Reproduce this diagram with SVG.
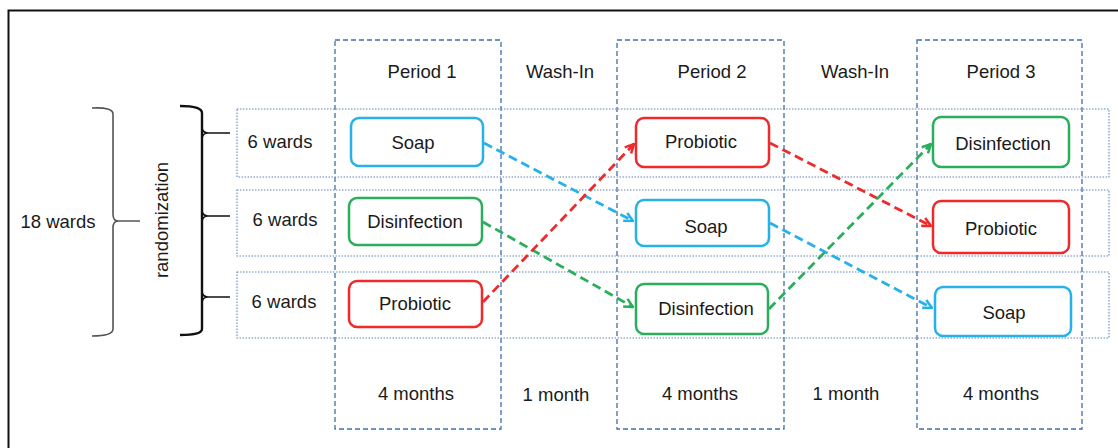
<svg xmlns="http://www.w3.org/2000/svg" width="1118" height="448" viewBox="0 0 1118 448">
<defs>
<style>
.t{font-family:"Liberation Sans",Arial,sans-serif;font-size:18.5px;fill:#1a1a1a;text-anchor:middle}
.col{fill:none;stroke:#3F6FA8;stroke-width:1.3;stroke-dasharray:5,3}
.row{fill:none;stroke:#5F86BE;stroke-width:1.1;stroke-dasharray:1.5,1.5}
.box{fill:#fff;stroke-width:2.5}
.b{stroke:#27B1E9}.g{stroke:#2BAE5C}.r{stroke:#EE2A2A}
.arr{fill:none;stroke-width:2.8;stroke-dasharray:9,5}
.brace{fill:none}
</style>
<marker id="mb" viewBox="0 0 10 10" refX="9" refY="5" markerWidth="11" markerHeight="11" markerUnits="userSpaceOnUse" orient="auto"><path d="M1,1 L9,5 L1,9" fill="none" stroke="#27B1E9" stroke-width="2.3"/></marker>
<marker id="mg" viewBox="0 0 10 10" refX="9" refY="5" markerWidth="11" markerHeight="11" markerUnits="userSpaceOnUse" orient="auto"><path d="M1,1 L9,5 L1,9" fill="none" stroke="#2BAE5C" stroke-width="2.3"/></marker>
<marker id="mr" viewBox="0 0 10 10" refX="9" refY="5" markerWidth="11" markerHeight="11" markerUnits="userSpaceOnUse" orient="auto"><path d="M1,1 L9,5 L1,9" fill="none" stroke="#EE2A2A" stroke-width="2.3"/></marker>
</defs>
<rect x="0" y="0" width="1118" height="448" fill="#fff"/>
<rect x="8.5" y="10.5" width="1200" height="500" fill="none" stroke="#111" stroke-width="2"/>

<g id="grid">
<rect class="col" x="335" y="40" width="166" height="389"/>
<rect class="col" x="617" y="40" width="167" height="389"/>
<rect class="col" x="917" y="40" width="165" height="389"/>
<rect class="row" x="237" y="109" width="872" height="68"/>
<rect class="row" x="237" y="190" width="872" height="66"/>
<rect class="row" x="237" y="272" width="872" height="66"/>
</g>

<g id="headers">
<text class="t" x="422" y="78">Period 1</text>
<text class="t" x="560" y="78">Wash-In</text>
<text class="t" x="712" y="78">Period 2</text>
<text class="t" x="855" y="78">Wash-In</text>
<text class="t" x="1001" y="78">Period 3</text>
<text class="t" x="416" y="400">4 months</text>
<text class="t" x="556" y="401">1 month</text>
<text class="t" x="700" y="400">4 months</text>
<text class="t" x="846" y="400">1 month</text>
<text class="t" x="1001" y="400">4 months</text>
</g>

<g id="left">
<text class="t" x="58" y="228">18 wards</text>
<text class="t" transform="translate(168,220) rotate(-90)">randomization</text>
<text class="t" x="280" y="148">6 wards</text>
<text class="t" x="285" y="226">6 wards</text>
<text class="t" x="284" y="308">6 wards</text>
<path class="brace" stroke="#555" stroke-width="1.6" d="M92,108 Q113,107 113,114 L113,214 Q113,221 118,221 L140,221 M118,221 Q113,221 113,228 L113,329 Q113,336 92,336"/>
<path class="brace" stroke="#111" stroke-width="2.4" d="M180,106 Q202,106 202,113 L202,329 Q202,335 180,335"/>
<path class="brace" stroke="#111" stroke-width="1.6" d="M230,133 L208,133 Q203,133 202,128 M208,133 Q203,133 202,138 M230,216 L208,216 Q203,216 202,211 M208,216 Q203,216 202,221 M230,297 L208,297 Q203,297 202,292 M208,297 Q203,297 202,302"/>
</g>

<g id="connectors">
<line class="arr b" x1="484" y1="143" x2="633" y2="221" marker-end="url(#mb)"/>
<line class="arr g" x1="483" y1="222" x2="633" y2="307" marker-end="url(#mg)"/>
<line class="arr r" x1="483" y1="302" x2="634" y2="144" marker-end="url(#mr)"/>
<line class="arr r" x1="770" y1="143" x2="931" y2="226" marker-end="url(#mr)"/>
<line class="arr b" x1="770" y1="223" x2="932" y2="308" marker-end="url(#mb)"/>
<line class="arr g" x1="769" y1="309" x2="931" y2="144" marker-end="url(#mg)"/>
</g>

<g id="p1-soap"><rect class="box b" x="351" y="118" width="132" height="48" rx="8"/><text class="t" x="413" y="149">Soap</text></g>
<g id="p1-disinfection"><rect class="box g" x="349" y="198" width="133" height="47" rx="8"/><text class="t" x="415" y="228">Disinfection</text></g>
<g id="p1-probiotic"><rect class="box r" x="349" y="281" width="133" height="46" rx="8"/><text class="t" x="415" y="310">Probiotic</text></g>
<g id="p2-probiotic"><rect class="box r" x="636" y="118" width="133" height="49" rx="8"/><text class="t" x="701" y="148">Probiotic</text></g>
<g id="p2-soap"><rect class="box b" x="636" y="200" width="133" height="46" rx="8"/><text class="t" x="706" y="233">Soap</text></g>
<g id="p2-disinfection"><rect class="box g" x="636" y="284" width="132" height="50" rx="8"/><text class="t" x="706" y="315">Disinfection</text></g>
<g id="p3-disinfection"><rect class="box g" x="933" y="117" width="136" height="50" rx="8"/><text class="t" x="1003" y="150">Disinfection</text></g>
<g id="p3-probiotic"><rect class="box r" x="933" y="201" width="136" height="52" rx="8"/><text class="t" x="1001" y="235">Probiotic</text></g>
<g id="p3-soap"><rect class="box b" x="935" y="287" width="136" height="49" rx="8"/><text class="t" x="1004" y="319">Soap</text></g>
</svg>
